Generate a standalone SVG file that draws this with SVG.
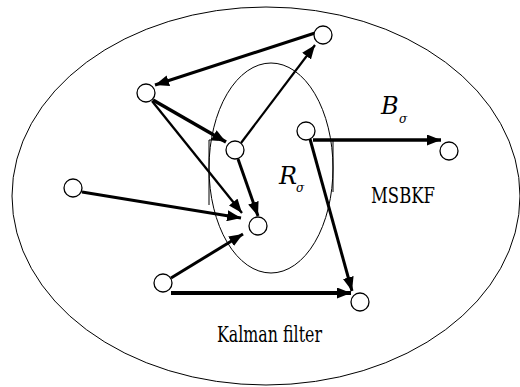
<svg xmlns="http://www.w3.org/2000/svg" width="520" height="387" viewBox="0 0 520 387">
<style>
.reg{fill:none;stroke:#000;stroke-width:1}
.node{fill:#fff;stroke:#000;stroke-width:1.3}
.c{stroke:#000;fill:none;marker-end:url(#ah)}
</style>
<defs>
<marker id="ah" markerUnits="userSpaceOnUse" markerWidth="15" markerHeight="11" refX="14" refY="5.5" orient="auto">
<path d="M0,0 L14,5.5 L0,11 z" fill="#000"/>
</marker>
</defs>
<rect width="520" height="387" fill="#fff"/>
<g id="regions">
<ellipse class="reg" cx="266" cy="196" rx="254" ry="189"/>
<ellipse class="reg" cx="271" cy="168" rx="62" ry="105"/>
<path class="reg" d="M218,140 H209 V205 M333,140 V192"/>
</g>
<g id="connectors">
<line class="c" x1="315" y1="33" x2="155" y2="85" stroke-width="3"/>
<line class="c" x1="241" y1="143" x2="315" y2="45" stroke-width="2.2"/>
<line class="c" x1="153" y1="100" x2="226" y2="142" stroke-width="3.5"/>
<line class="c" x1="152" y1="101" x2="242" y2="213" stroke-width="2.3"/>
<line class="c" x1="82" y1="192" x2="241" y2="218" stroke-width="3"/>
<line class="c" x1="238" y1="159" x2="258" y2="216" stroke-width="3"/>
<line class="c" x1="171" y1="278" x2="243" y2="234" stroke-width="3"/>
<line class="c" x1="171" y1="293" x2="351" y2="293" stroke-width="4"/>
<line class="c" x1="313" y1="140" x2="441" y2="140" stroke-width="3.5"/>
<line class="c" x1="310" y1="139" x2="352" y2="291" stroke-width="3"/>
</g>
<g id="n1"><circle class="node" cx="323" cy="35" r="9"/></g>
<g id="n2"><circle class="node" cx="146" cy="93" r="9"/></g>
<g id="n3"><circle class="node" cx="235" cy="150" r="9"/></g>
<g id="n4"><circle class="node" cx="306" cy="131" r="9"/></g>
<g id="n5"><circle class="node" cx="449" cy="151" r="9"/></g>
<g id="n6"><circle class="node" cx="73" cy="188" r="9"/></g>
<g id="n7"><circle class="node" cx="258" cy="226" r="9"/></g>
<g id="n8"><circle class="node" cx="163" cy="283" r="9"/></g>
<g id="n9"><circle class="node" cx="360" cy="302" r="9"/></g>
<g id="labels" font-family="DejaVu Serif, Liberation Serif, serif" fill="#000">
<text font-style="italic" x="381" y="114" font-size="24">B</text>
<text font-style="italic" x="399" y="123" font-size="12">σ</text>
<text font-style="italic" x="279" y="184" font-size="24">R</text>
<text font-style="italic" x="296" y="192" font-size="12">σ</text>
<text x="371" y="203" font-size="22" textLength="64" lengthAdjust="spacingAndGlyphs">MSBKF</text>
<text x="217" y="342" font-size="22" textLength="105" lengthAdjust="spacingAndGlyphs">Kalman filter</text>
</g>
</svg>
